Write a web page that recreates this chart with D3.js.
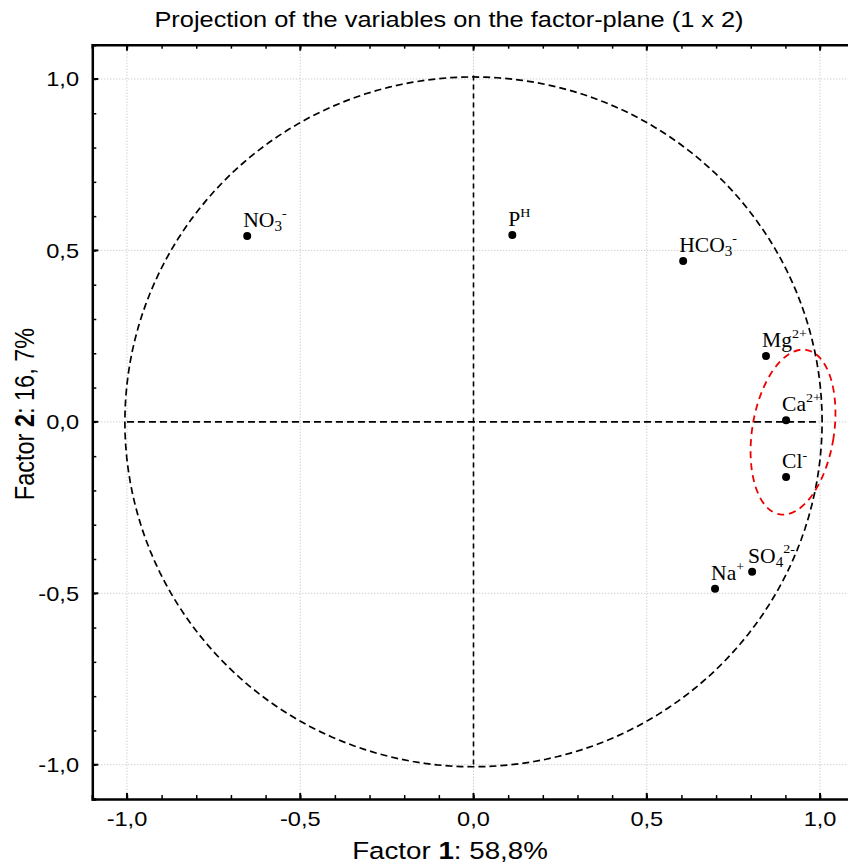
<!DOCTYPE html>
<html><head><meta charset="utf-8">
<script src="https://cdn.jsdelivr.net/npm/d3@7"></script>
<style>body{margin:0;background:#fff}svg{display:block}</style>
</head><body>
<svg id="c" width="848" height="866"></svg>
<script>
// Data
const labels = ["NO3", "PH", "HCO3", "Mg", "Ca", "Cl", "SO4", "Na"];
const factor1 = [-0.653, 0.112, 0.605, 0.844, 0.902, 0.902, 0.804, 0.697];
const factor2 = [0.542, 0.545, 0.469, 0.192, 0.005, -0.161, -0.437, -0.487];
const labelBase = ["NO", "P", "HCO", "Mg", "Ca", "Cl", "SO", "Na"];
const labelSub = ["3", "", "3", "", "", "", "4", ""];
const labelSup = ["-", "H", "-", "2+", "2+", "-", "2-", "+"];
const majorTicks = [-1.0, -0.5, 0.0, 0.5, 1.0];
const tickLabels = ["-1,0", "-0,5", "0,0", "0,5", "1,0"];
const ellipse = {cx: 0.922, cy: -0.03, rx: 0.118, ry: 0.243, angle: 9};

const svg = d3.select("#c");
const x = d3.scaleLinear().domain([-1.1, 1.1]).range([92.3, 854.7]);
const y = d3.scaleLinear().domain([-1.1, 1.1]).range([799, 44.7]);
const font = "'Liberation Sans', Arial, sans-serif";
const serif = "'Liberation Serif', 'Times New Roman', serif";
const SX = 1.18; // horizontal stretch of text seen in reference

// gridlines
const g = svg.append("g");
majorTicks.forEach(v => {
  g.append("line").attr("x1", x(v)).attr("x2", x(v)).attr("y1", y(1.1)).attr("y2", y(-1.1))
    .attr("stroke", "#bbb").attr("stroke-width", 1).attr("stroke-dasharray", "1,2");
  g.append("line").attr("y1", y(v)).attr("y2", y(v)).attr("x1", x(-1.1)).attr("x2", x(1.1))
    .attr("stroke", "#bbb").attr("stroke-width", 1).attr("stroke-dasharray", "1,2");
});

// axes with inward ticks
const minor = d3.range(-11, 12).map(d => d / 10);
const axB = d3.axisTop(x).tickValues(minor).tickSize(4).tickFormat("");
const axT = d3.axisBottom(x).tickValues(minor).tickSize(4).tickFormat("");
const axL = d3.axisRight(y).tickValues(minor).tickSize(4).tickFormat("");
function styleAx(sel){ sel.select(".domain").attr("stroke","#000").attr("stroke-width",2.5);
  sel.selectAll(".tick line").attr("stroke","#000").attr("stroke-width",1.5); }
svg.append("g").attr("transform", `translate(0,${y(-1.1)})`).call(axB).call(styleAx);
svg.append("g").attr("transform", `translate(0,${y(1.1)})`).call(axT).call(styleAx);
svg.append("g").attr("transform", `translate(${x(-1.1)},0)`).call(axL).call(styleAx);
majorTicks.forEach(v => {
  svg.append("line").attr("x1", x(v)).attr("x2", x(v)).attr("y1", y(-1.1)).attr("y2", y(-1.1)-6).attr("stroke","#000").attr("stroke-width",2);
  svg.append("line").attr("x1", x(v)).attr("x2", x(v)).attr("y1", y(1.1)).attr("y2", y(1.1)+6).attr("stroke","#000").attr("stroke-width",2);
  svg.append("line").attr("y1", y(v)).attr("y2", y(v)).attr("x1", x(-1.1)).attr("x2", x(-1.1)+6).attr("stroke","#000").attr("stroke-width",2);
});

// tick labels
majorTicks.forEach((v, i) => {
  svg.append("text").attr("transform", `translate(${x(v)},826) scale(${SX},1)`).attr("text-anchor", "middle")
    .attr("font-family", font).attr("font-size", 20).text(tickLabels[i]);
  svg.append("text").attr("transform", `translate(79,${y(v) + 7.5}) scale(${SX},1)`).attr("text-anchor", "end")
    .attr("font-family", font).attr("font-size", 20).text(tickLabels[i]);
});

// unit circle
const R = 1.006;
const circ = d3.range(0, 361, 2).map(a => [R * Math.cos(a * Math.PI / 180), R * Math.sin(a * Math.PI / 180)]);
svg.append("path").attr("d", d3.line().x(d => x(d[0])).y(d => y(d[1]))(circ))
  .attr("fill", "none").attr("stroke", "#000").attr("stroke-width", 1.7).attr("stroke-dasharray", "7,4");
// axes through origin
svg.append("line").attr("x1", x(-1)).attr("x2", x(1)).attr("y1", y(0)).attr("y2", y(0))
  .attr("stroke", "#000").attr("stroke-width", 1.6).attr("stroke-dasharray", "7,4");
svg.append("line").attr("x1", x(0)).attr("x2", x(0)).attr("y1", y(1.01)).attr("y2", y(-1))
  .attr("stroke", "#000").attr("stroke-width", 1.6).attr("stroke-dasharray", "5,4");

// red ellipse
const ecx = x(ellipse.cx), ecy = y(ellipse.cy);
svg.append("ellipse").attr("cx", ecx).attr("cy", ecy)
  .attr("rx", x(ellipse.cx + ellipse.rx) - ecx).attr("ry", ecy - y(ellipse.cy + ellipse.ry))
  .attr("transform", `rotate(${ellipse.angle},${ecx},${ecy})`)
  .attr("fill", "none").attr("stroke", "#e00").attr("stroke-width", 1.8).attr("stroke-dasharray", "7,5");

// points
labels.forEach((l, i) => {
  const px = x(factor1[i]), py = y(factor2[i]);
  svg.append("circle").attr("cx", px).attr("cy", py).attr("r", 4).attr("fill", "#000");
  const t = svg.append("text").attr("transform", `translate(${px - 4},${py - 9}) scale(1.08,1)`)
    .attr("font-family", serif).attr("font-size", 20);
  t.append("tspan").text(labelBase[i]);
  if (labelSub[i]) t.append("tspan").attr("font-size", 14).attr("dy", 4).text(labelSub[i]);
  t.append("tspan").attr("font-size", 13).attr("dy", labelSub[i] ? -14 : -9).text(labelSup[i]);
});

// titles
svg.append("text").attr("transform", `translate(449,27) scale(${SX},1)`).attr("text-anchor", "middle")
  .attr("font-family", font).attr("font-size", 21.5).text("Projection of the variables on the factor-plane (1 x 2)");
const xt = svg.append("text").attr("transform", `translate(450,859) scale(${SX},1)`).attr("text-anchor", "middle")
  .attr("font-family", font).attr("font-size", 23.5);
xt.append("tspan").text("Factor ");
xt.append("tspan").attr("font-weight", "bold").text("1");
xt.append("tspan").text(": 58,8%");
const yt = svg.append("text").attr("transform", `translate(34,414) scale(${SX},1) rotate(-90)`).attr("text-anchor", "middle")
  .attr("font-family", font).attr("font-size", 23.5);
yt.append("tspan").text("Factor ");
yt.append("tspan").attr("font-weight", "bold").text("2");
yt.append("tspan").text(": 16, 7%");
</script>
</body></html>
